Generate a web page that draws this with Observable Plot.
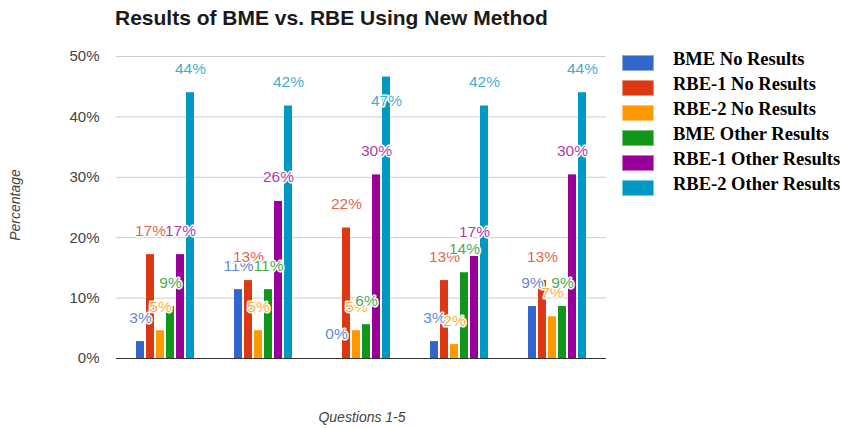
<!DOCTYPE html>
<html>
<head>
<meta charset="utf-8">
<script src="https://cdn.jsdelivr.net/npm/d3@7"></script>
<script src="https://cdn.jsdelivr.net/npm/@observablehq/plot@0.6"></script>
<style>
  html, body { margin: 0; padding: 0; background: #fff; }
  #wrap { position: relative; width: 843px; height: 428px; overflow: hidden; font-family: "Liberation Sans", Arial, sans-serif; }
  #wrap svg { position: absolute; left: 0; top: 0; }
  .title { position: absolute; left: 115px; top: 6px; font-size: 21px; font-weight: bold; color: #1a1a1a; white-space: nowrap; }
  .ylab { position: absolute; left: 15px; top: 205px; transform: translate(-50%, -50%) rotate(-90deg); font-size: 14px; font-style: italic; color: #444; white-space: nowrap; }
  .xlab { position: absolute; left: 362px; top: 417px; transform: translate(-50%, -50%); font-size: 14px; font-style: italic; color: #444; white-space: nowrap; }
  .legend { position: absolute; left: 622px; top: 55px; font-family: "Liberation Serif", "Times New Roman", serif; font-weight: bold; font-size: 18.5px; color: #000; }
  .legend .row { position: relative; height: 25px; }
  .legend .sw { position: absolute; left: 0; top: 0; width: 30px; height: 14px; border: 1px solid rgba(255,255,255,0.45); }
  .legend .lbl { position: absolute; left: 51px; top: -6px; white-space: nowrap; }
</style>
</head>
<body>
<div id="wrap"></div>
<script>
const questions = ["Q1", "Q2", "Q3", "Q4", "Q5"];
const series = ["BME No Results", "RBE-1 No Results", "RBE-2 No Results", "BME Other Results", "RBE-1 Other Results", "RBE-2 Other Results"];
const colors = ["#3366cc", "#dc3912", "#ff9900", "#109618", "#990099", "#0099c6"];
const bmeNo      = [2.8, 11.4, 0.0, 2.8, 8.6];
const rbe1No     = [17.2, 12.9, 21.6, 12.9, 12.9];
const rbe2No     = [4.6, 4.6, 4.6, 2.3, 6.9];
const bmeOther   = [8.6, 11.4, 5.6, 14.2, 8.6];
const rbe1Other  = [17.2, 26.0, 30.4, 16.9, 30.4];
const rbe2Other  = [44.0, 41.8, 46.6, 41.8, 44.0];
const yTicks = [0, 10, 20, 30, 40, 50];
const titleText = "Results of BME vs. RBE Using New Method";
const yLabel = "Percentage";
const xLabel = "Questions 1-5";

const seriesValues = [bmeNo, rbe1No, rbe2No, bmeOther, rbe1Other, rbe2Other];
const data = [];
questions.forEach((q, qi) => {
  series.forEach((s, si) => {
    data.push({question: q, series: s, value: seriesValues[si][qi]});
  });
});
const yMax = 50;
const fitsAbove = d => d.value + 4 <= yMax;
const labelOpts = {fx: "question", x: "series", y: "value", text: d => Math.round(d.value) + "%", fill: "series", fillOpacity: 0.8, stroke: "white", strokeWidth: 3, fontSize: 15.5};

const chart = Plot.plot({
  width: 843,
  height: 428,
  marginTop: 56,
  marginBottom: 70,
  marginLeft: 115,
  marginRight: 236,
  style: {fontFamily: '"Liberation Sans", Arial, sans-serif', background: "white"},
  fx: {domain: questions, padding: 0, axis: null},
  x: {domain: series, paddingInner: 0.16, paddingOuter: 1.84, axis: null},
  y: {domain: [0, yMax], axis: null},
  color: {domain: series, range: colors},
  marks: [
    Plot.ruleY(yTicks.filter(t => t > 0), {stroke: "#cccccc", strokeWidth: 1}),
    Plot.axisY({ticks: yTicks, tickFormat: d => d + "%", tickSize: 0, tickPadding: 17, label: null, fontSize: 15, fill: "#444"}),
    Plot.barY(data, {fx: "question", x: "series", y: "value", fill: "series"}),
    Plot.ruleY([0], {stroke: "#333", strokeWidth: 1.2}),
    Plot.text(data.filter(fitsAbove), {...labelOpts, dy: -24}),
    Plot.text(data.filter(d => !fitsAbove(d)), {...labelOpts, dy: 24})
  ]
});

const wrap = document.getElementById("wrap");
wrap.appendChild(chart);

const t = document.createElement("div"); t.className = "title"; t.textContent = titleText; wrap.appendChild(t);
const yl = document.createElement("div"); yl.className = "ylab"; yl.textContent = yLabel; wrap.appendChild(yl);
const xl = document.createElement("div"); xl.className = "xlab"; xl.textContent = xLabel; wrap.appendChild(xl);

const lg = document.createElement("div"); lg.className = "legend";
series.forEach((s, i) => {
  const row = document.createElement("div"); row.className = "row";
  const sw = document.createElement("div"); sw.className = "sw"; sw.style.background = chart.scale("color").apply(s);
  const lb = document.createElement("div"); lb.className = "lbl"; lb.textContent = s;
  row.appendChild(sw); row.appendChild(lb); lg.appendChild(row);
});
wrap.appendChild(lg);
</script>
</body>
</html>
